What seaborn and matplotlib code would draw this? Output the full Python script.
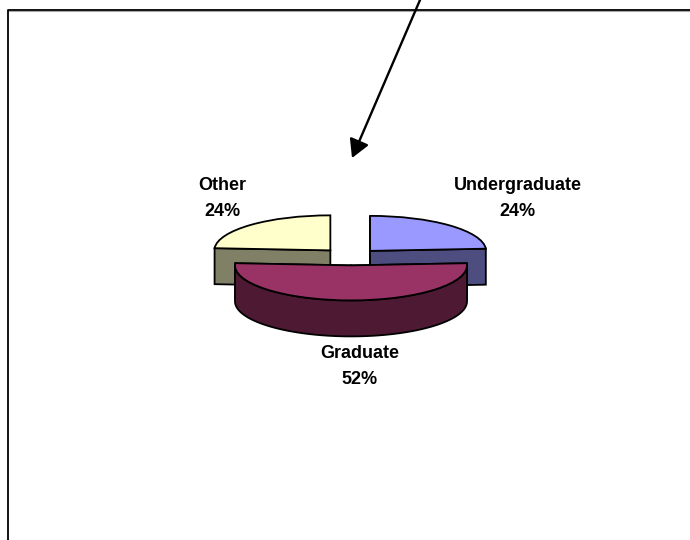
# Exploded pseudo-3D pie of student categories
import numpy as np
import matplotlib
matplotlib.use('Agg')
import matplotlib.pyplot as plt
import seaborn as sns

# Chart data
categories = ['Undergraduate', 'Graduate', 'Other']
shares = [24, 52, 24]
top_colors = ['#9999FF', '#993366', '#FFFFCC']
side_colors = ['#4D4D80', '#4D1933', '#808066']

sns.set_theme(style='white')
plt.rcParams['font.family'] = ['Liberation Sans', 'DejaVu Sans']

W, H = 690, 540
fig = plt.figure(figsize=(W / 100, H / 100), dpi=100)

# Pie axes: one unit is 116 px across and 35 px down, so the circle looks tilted
cx, cy, rx, ry = 351, 257, 116, 35
depth = 36 / ry
ax = fig.add_axes([0, 0, 1, 1])
wedges, _ = ax.pie(shares, colors=top_colors, startangle=90, counterclock=False,
                   explode=[0.24, 0.24, 0.26], radius=1,
                   wedgeprops={'edgecolor': 'black', 'linewidth': 1.3})
ax.set_aspect('auto')
ax.set_xlim(-cx / rx, (W - cx) / rx)
ax.set_ylim((cy - H) / ry, cy / ry)
ax.axis('off')


# Side walls of one slice, built from the wedge that pie() returned
def draw_walls(wedge, color, z):
    x0, y0 = wedge.center
    for angle in (wedge.theta1, wedge.theta2):
        a = np.radians(angle)
        xs = [x0, x0 + np.cos(a), x0 + np.cos(a), x0]
        ys = [y0, y0 + np.sin(a), y0 + np.sin(a) - depth, y0 - depth]
        ax.fill(xs, ys, facecolor=color, edgecolor='black', linewidth=1.3, zorder=z)
    # outer rim, only the part facing the viewer
    t = np.radians(np.linspace(wedge.theta1, wedge.theta2, 200))
    t = t[np.sin(t) <= 0]
    if len(t) > 1:
        xs = np.r_[x0 + np.cos(t), x0 + np.cos(t[::-1])]
        ys = np.r_[y0 + np.sin(t), y0 + np.sin(t[::-1]) - depth]
        ax.fill(xs, ys, facecolor=color, edgecolor='black', linewidth=1.3, zorder=z)
    wedge.set_zorder(z + 0.5)


# Back slices first, the big front slice last
draw_walls(wedges[0], side_colors[0], 2)
draw_walls(wedges[2], side_colors[2], 2)
draw_walls(wedges[1], side_colors[1], 4)

# Overlay in pixel coordinates for frame, arrow and labels
over = fig.add_axes([0, 0, 1, 1], facecolor='none')
over.set_xlim(0, W)
over.set_ylim(H, 0)
over.axis('off')

over.plot([7.5, W], [10.8, 10.8], color='#aaaaaa', lw=0.8)
over.plot([7.5, 7.5, W], [H, 9.5, 9.5], color='black', lw=1.3)
over.annotate('', xy=(352, 158), xytext=(420, 0),
              arrowprops=dict(arrowstyle='-|>,head_length=1.0,head_width=0.56', color='black',
                              lw=1.7, shrinkA=0, shrinkB=0, mutation_scale=11))

label_x = [517.5, 360, 222.5]
label_y = [185.5, 353.5, 185.5]
for name, share, x, y in zip(categories, shares, label_x, label_y):
    over.text(x, y, name, ha='center', va='center', fontsize=13, fontweight='bold', color='black')
    over.text(x, y + 26, f'{share}%', ha='center', va='center', fontsize=13, fontweight='bold', color='black')

fig.savefig('out.png', dpi=100)
